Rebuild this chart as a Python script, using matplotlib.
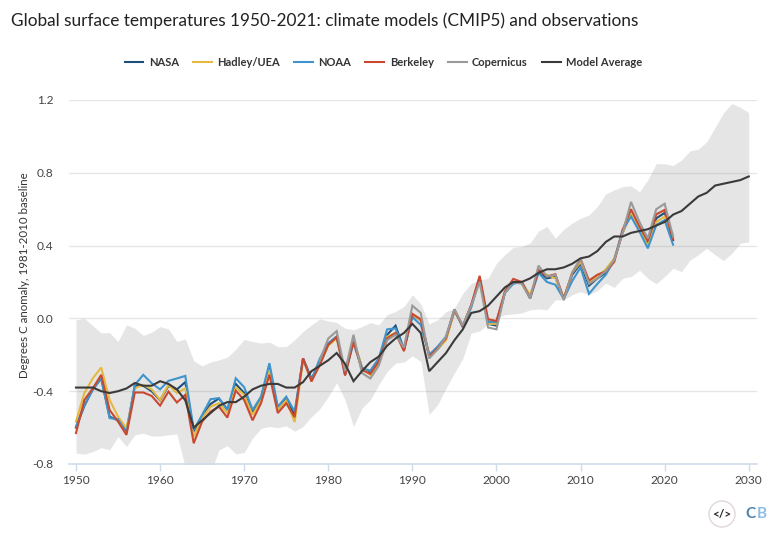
import matplotlib
matplotlib.use("Agg")
import matplotlib.pyplot as plt
from matplotlib.patches import Ellipse
import numpy as np

plt.rcParams['font.family'] = ['Lato', 'DejaVu Sans']

obs_years = list(range(1950, 2022))
model_years = list(range(1950, 2031))

nasa = [-.60,-.48,-.39,-.33,-.54,-.56,-.62,-.37,-.37,-.40,-.45,-.37,-.39,-.35,-.62,-.54,-.47,-.44,-.50,-.36,-.41,-.52,-.44,-.27,-.50,-.44,-.53,-.22,-.33,-.25,-.14,-.10,-.31,-.12,-.27,-.30,-.24,-.09,-.04,-.17,.02,-.01,-.20,-.17,-.11,.04,-.04,.07,.22,-.03,-.04,.14,.20,.20,.12,.26,.22,.23,.11,.24,.30,.18,.22,.25,.32,.47,.58,.50,.41,.55,.58,.43]
hadley = [-.567,-.41,-.329,-.27,-.448,-.54,-.604,-.384,-.365,-.39,-.448,-.365,-.41,-.384,-.649,-.548,-.485,-.466,-.52,-.378,-.42,-.53,-.45,-.28,-.50,-.45,-.57,-.23,-.34,-.25,-.15,-.11,-.30,-.11,-.27,-.31,-.25,-.10,-.08,-.17,.02,-.01,-.20,-.17,-.12,.04,-.04,.07,.22,-.03,-.03,.14,.20,.20,.13,.26,.24,.22,.11,.25,.31,.20,.23,.27,.33,.47,.58,.49,.40,.53,.56,.46]
noaa = [-.594,-.476,-.39,-.329,-.548,-.554,-.63,-.365,-.31,-.356,-.39,-.343,-.33,-.316,-.612,-.53,-.444,-.438,-.503,-.329,-.378,-.503,-.43,-.246,-.485,-.43,-.512,-.22,-.338,-.22,-.136,-.10,-.30,-.136,-.274,-.287,-.22,-.06,-.055,-.173,.007,-.036,-.20,-.155,-.10,.05,-.05,.06,.22,-.02,-.02,.14,.19,.20,.11,.25,.20,.185,.107,.205,.28,.135,.19,.24,.32,.486,.56,.477,.385,.513,.54,.405]
berkeley = [-.63,-.448,-.384,-.31,-.503,-.567,-.64,-.407,-.407,-.426,-.479,-.402,-.462,-.42,-.686,-.567,-.512,-.485,-.545,-.397,-.448,-.56,-.466,-.31,-.52,-.466,-.543,-.219,-.347,-.255,-.145,-.103,-.314,-.127,-.283,-.305,-.237,-.109,-.08,-.18,.025,-.005,-.21,-.164,-.109,.047,-.045,.075,.234,-.005,-.014,.148,.217,.20,.11,.267,.23,.243,.107,.25,.327,.208,.24,.258,.31,.486,.60,.505,.426,.572,.596,.435]
copernicus_years = list(range(1979, 2022))
copernicus = [-.23,-.11,-.07,-.29,-.09,-.30,-.33,-.26,-.12,-.09,-.16,.07,.03,-.22,-.17,-.10,.05,-.04,.07,.20,-.05,-.06,.14,.20,.19,.11,.29,.23,.24,.10,.25,.33,.19,.22,.26,.32,.47,.64,.53,.44,.60,.63,.45]
model_avg = [-.38,-.38,-.38,-.40,-.41,-.40,-.385,-.355,-.37,-.37,-.345,-.36,-.39,-.45,-.60,-.56,-.52,-.48,-.46,-.46,-.43,-.39,-.37,-.36,-.36,-.38,-.38,-.35,-.29,-.26,-.23,-.19,-.25,-.345,-.29,-.24,-.21,-.15,-.11,-.08,-.03,-.08,-.29,-.24,-.19,-.12,-.06,.03,.04,.07,.12,.17,.20,.20,.22,.25,.27,.27,.28,.30,.33,.34,.37,.42,.45,.45,.47,.48,.49,.51,.53,.57,.59,.63,.67,.69,.73,.74,.75,.76,.78]
band_upper = [-.008,0,-.04,-.08,-.078,-.127,-.036,-.054,-.094,-.076,-.045,-.058,-.127,-.113,-.233,-.261,-.24,-.228,-.213,-.17,-.115,-.127,-.136,-.13,-.155,-.155,-.118,-.072,-.036,-.003,-.014,-.023,-.054,-.063,-.045,-.023,-.036,.02,.038,.065,.13,.08,-.03,-.008,.037,.056,.138,.193,.212,.22,.303,.35,.391,.395,.413,.48,.505,.44,.49,.523,.55,.569,.615,.684,.706,.724,.728,.696,.761,.85,.85,.84,.87,.92,.93,.97,1.05,1.13,1.18,1.16,1.13]
band_lower = [-.74,-.746,-.732,-.71,-.722,-.649,-.704,-.64,-.631,-.646,-.646,-.64,-.635,-.82,-.90,-.90,-.85,-.723,-.699,-.744,-.737,-.658,-.604,-.594,-.60,-.59,-.62,-.594,-.54,-.497,-.43,-.353,-.448,-.594,-.494,-.448,-.365,-.292,-.246,-.24,-.206,-.237,-.527,-.475,-.384,-.30,-.22,-.08,-.07,-.03,0,.02,.025,.03,.047,.052,.047,.102,.102,.13,.147,.13,.153,.193,.17,.22,.23,.265,.22,.19,.23,.276,.257,.32,.35,.385,.35,.318,.358,.413,.42]

x_ticks = list(range(1950, 2031, 10))
y_ticks = [-0.8, -0.4, 0.0, 0.4, 0.8, 1.2]
y_labels = ['-0.8', '-0.4', '0.0', '0.4', '0.8', '1.2']

W, H = 780, 541
fig = plt.figure(figsize=(W/100, H/100), dpi=100)
ax = fig.add_axes([69/W, 1-464/H, (757-69)/W, (464-100)/H])
ax.set_xlim(1949.17, 2030.98)
ax.set_ylim(-0.8, 1.2)

ax.fill_between(model_years, band_lower, band_upper, color='#7f7f7f', alpha=0.2, lw=0, zorder=1)

series = [
    ('NASA', obs_years, nasa, '#1d4f7c'),
    ('Hadley/UEA', obs_years, hadley, '#e5b93f'),
    ('NOAA', obs_years, noaa, '#3f94cc'),
    ('Berkeley', obs_years, berkeley, '#c8492f'),
    ('Copernicus', copernicus_years, copernicus, '#999999'),
    ('Model Average', model_years, model_avg, '#3a3a3a'),
]
for i, (name, xs, ys, col) in enumerate(series):
    ax.plot(xs, ys, color=col, lw=1.5, label=name, zorder=3+i, solid_joinstyle='miter')

for s in ['top', 'left', 'right']:
    ax.spines[s].set_visible(False)
ax.spines['bottom'].set_color('#cfdcec')
ax.spines['bottom'].set_linewidth(1.2)
ax.set_axisbelow(True)
ax.yaxis.grid(True, color='#e6e6e6', lw=1)
ax.set_yticks(y_ticks)
ax.set_yticklabels(y_labels)
ax.set_xticks(x_ticks)
ax.tick_params(axis='y', length=0, pad=11, labelsize=8.6, labelcolor='#444444')
ax.tick_params(axis='x', length=5, width=1, color='#cfdcec', pad=3, labelsize=8.6, labelcolor='#444444')
ax.set_ylabel('Degrees C anomaly, 1981-2010 baseline', fontsize=8.25, color='#333333',
              labelpad=2, y=(464-275.5)/364)

fig.text(11/W, 1-21/H, 'Global surface temperatures 1950-2021: climate models (CMIP5) and observations',
         fontsize=12.45, color='#222222', va='center', ha='left')

fig.legend(*ax.get_legend_handles_labels(), ncol=6, frameon=False, loc='center',
           bbox_to_anchor=(383.5/W, 1-62/H), prop={'size': 8.0, 'weight': 'bold'},
           handlelength=1.7, handletextpad=0.5, columnspacing=1.25, labelcolor='#333333')

fig.add_artist(Ellipse((722/W, 1-514/H), 26/W, 26/H, transform=fig.transFigure,
                       facecolor='white', edgecolor='#e0d8d6', lw=1))
fig.text(722/W, 1-514/H, '</>', fontsize=8.5, fontweight='bold', color='#222222', ha='center', va='center')
fig.text(745.5/W, 1-514/H, 'C', fontsize=11, fontweight='bold', color='#4f81ad', ha='left', va='center')
fig.text(756.5/W, 1-514/H, 'B', fontsize=11, fontweight='bold', color='#8dbde3', ha='left', va='center')

fig.savefig('out.png', dpi=100)
